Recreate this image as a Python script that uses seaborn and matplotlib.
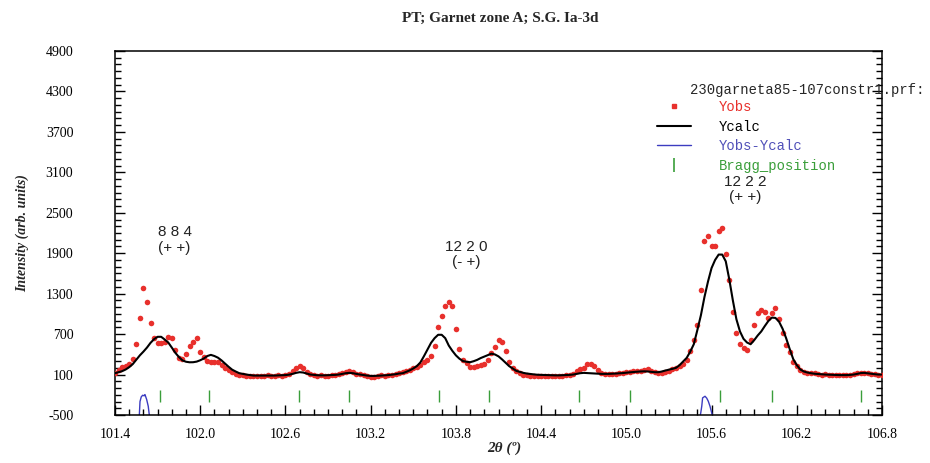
import numpy as np
import pandas as pd
import matplotlib
matplotlib.use("Agg")
import matplotlib.pyplot as plt
from matplotlib.lines import Line2D
from matplotlib.ticker import MultipleLocator
import seaborn as sns

# scan grid: 2theta from 101.4 deg in steps of 0.025 deg
scan_start = 101.4
scan_step = 0.025

# observed intensity, one value per scan step (rows of 10 steps)
y_obs = [
    130, 170, 205, 225, 259, 330, 560, 940, 1390, 1170,
    860, 640, 570, 570, 585, 655, 640, 460, 350, 330,
    400, 520, 590, 640, 430, 360, 295, 288, 290, 290,
    245, 200, 175, 140, 110, 100, 90, 85, 80, 82,
    80, 85, 75, 90, 80, 85, 95, 85, 100, 115,
    150, 200, 225, 195, 140, 110, 95, 85, 90, 80,
    85, 95, 90, 105, 120, 140, 150, 135, 115, 105,
    90, 80, 65, 70, 75, 90, 85, 95, 100, 110,
    120, 138, 157, 175, 193, 208, 235, 280, 318, 370,
    530, 800, 970, 1110, 1175, 1120, 770, 480, 320, 270,
    208, 212, 222, 237, 258, 320, 415, 510, 608, 585,
    450, 280, 190, 150, 125, 100, 92, 85, 85, 85,
    80, 80, 85, 75, 80, 85, 80, 90, 95, 110,
    150, 185, 200, 250, 260, 220, 165, 130, 115, 105,
    110, 110, 120, 125, 135, 140, 150, 155, 160, 175,
    180, 160, 135, 120, 125, 140, 160, 180, 200, 225,
    255, 320, 450, 620, 840, 1350, 2080, 2160, 2000, 2010,
    2230, 2270, 1890, 1500, 1030, 720, 550, 490, 460, 610,
    830, 1020, 1065, 1030, 935, 1010, 1080, 930, 720, 540,
    430, 285, 225, 175, 145, 130, 120, 120, 110, 100,
    105, 95, 100, 90, 95, 90, 95, 100, 110, 120,
    130, 125, 120, 110, 105, 100, 95,
]

# calculated profile on the same scan steps
y_calc = [
    120, 135, 150, 175, 210, 255, 320, 385, 440, 500,
    570, 625, 660, 660, 620, 575, 500, 422, 360, 310,
    290, 282, 283, 292, 312, 338, 375, 392, 375, 350,
    310, 262, 215, 172, 145, 120, 110, 100, 92, 85,
    85, 85, 85, 85, 85, 85, 88, 90, 92, 98,
    110, 125, 135, 130, 115, 100, 95, 90, 88, 88,
    90, 92, 95, 100, 110, 120, 125, 120, 110, 100,
    92, 85, 80, 80, 82, 85, 88, 92, 98, 105,
    115, 120, 140, 162, 190, 225, 280, 372, 470, 570,
    640, 690, 690, 640, 530, 452, 385, 335, 300, 290,
    283, 298, 318, 345, 367, 390, 410, 398, 370, 325,
    275, 225, 190, 155, 140, 125, 115, 108, 102, 97,
    95, 92, 90, 88, 88, 88, 90, 92, 95, 100,
    110, 120, 125, 122, 118, 115, 112, 110, 110, 110,
    112, 115, 118, 122, 128, 133, 138, 142, 146, 148,
    146, 140, 135, 135, 145, 160, 172, 185, 200, 240,
    295, 348, 440, 550, 760, 980, 1250, 1480, 1680, 1800,
    1880, 1880, 1780, 1510, 1200, 920, 740, 630, 575, 550,
    610, 680, 740, 820, 895, 945, 940, 885, 780, 640,
    480, 330, 240, 175, 145, 130, 120, 112, 108, 104,
    100, 98, 95, 93, 92, 92, 92, 95, 100, 110,
    122, 125, 118, 110, 105, 100, 100,
]

# difference curve (mostly below the visible range)
diff_2theta = [101.40, 101.560, 101.570, 101.576, 101.585, 101.595, 101.605,
               101.611, 101.623, 101.634, 101.645, 101.660,
               105.500, 105.515, 105.524, 105.531, 105.537, 105.554, 105.566,
               105.577, 105.589, 105.601, 105.612, 105.640, 106.80]
diff_vals = [-650, -650, -560, -300, -230, -207, -215,
             -197, -271, -370, -560, -650,
             -650, -560, -468, -370, -246, -222, -250,
             -296, -370, -468, -560, -650, -650]

bragg_pos = [101.717, 102.064, 102.695, 103.049, 103.683, 104.035,
             104.666, 105.026, 105.659, 106.028, 106.654]

x_ticks = [101.4, 102.0, 102.6, 103.2, 103.8, 104.4, 105.0, 105.6, 106.2, 106.8]
y_ticks = [-500, 100, 700, 1300, 1900, 2500, 3100, 3700, 4300, 4900]

peak_labels = ["8 8 4\n(+ +)", "12 2 0\n(- +)", "12 2 2\n(+ +)"]
peak_label_x = [101.82, 103.87, 105.835]
peak_label_y = [2095, 1880, 2845]

RED = "#e8302c"
BLUE = "#3c3cc0"
GREEN = "#3a9e3a"

two_theta = np.round(scan_start + scan_step * np.arange(len(y_obs)), 3)
df = pd.DataFrame({"two_theta": two_theta, "Yobs": y_obs, "Ycalc": y_calc})
diff_df = pd.DataFrame({"two_theta": diff_2theta, "diff": diff_vals})

sns.set_style("ticks")
plt.rcParams["font.family"] = ["Liberation Serif", "DejaVu Serif"]
plt.rcParams["axes.unicode_minus"] = False

fig = plt.figure(figsize=(9.3, 4.63), dpi=100)
ax = fig.add_axes([115 / 930, 48 / 463, 767 / 930, 364 / 463])

sns.scatterplot(data=df, x="two_theta", y="Yobs", ax=ax, color=RED, s=16,
                marker="o", linewidth=0, zorder=3, legend=False)
sns.lineplot(data=df, x="two_theta", y="Ycalc", ax=ax, color="black",
             linewidth=1.5, zorder=4, legend=False)
sns.lineplot(data=diff_df, x="two_theta", y="diff", ax=ax, color=BLUE,
             linewidth=1.0, zorder=2, legend=False, sort=False)
ax.vlines(bragg_pos, -310, -130, color=GREEN, linewidth=1.0)

for lab, lx, ly in zip(peak_labels, peak_label_x, peak_label_y):
    ax.text(lx, ly, lab, ha="center", va="center", fontsize=11,
            family=["Liberation Sans", "DejaVu Sans"], color="#222222",
            linespacing=1.15)

ax.set_xlim(101.4, 106.8)
ax.set_ylim(-500, 4900)
ax.set_xticks(x_ticks)
ax.set_xticklabels([f"{v:.1f}" for v in x_ticks])
ax.set_yticks(y_ticks)
ax.set_yticklabels([str(v) for v in y_ticks])
ax.xaxis.set_minor_locator(MultipleLocator(0.1))
ax.yaxis.set_minor_locator(MultipleLocator(100))

ax.tick_params(which="both", direction="in", left=True, right=True,
               bottom=True, top=False, width=1.0, colors="black",
               labelsize=10)
ax.tick_params(which="major", length=7)
ax.tick_params(which="minor", length=4)
ax.tick_params(axis="y", pad=30)
ax.tick_params(axis="x", pad=9)
for side in ax.spines.values():
    side.set_visible(True)
    side.set_linewidth(1.1)
    side.set_color("black")

ax.set_xlabel("2θ (º)", fontsize=11, fontweight="bold", fontstyle="italic")
ax.xaxis.set_label_coords(0.508, -0.072)
ax.set_ylabel("Intensity (arb. units)", fontsize=10, fontweight="bold",
              fontstyle="italic")
ax.yaxis.set_label_coords(-0.112, 0.5)

fig.text(500 / 930, 1 - 18 / 463, "PT; Garnet zone A; S.G. Ia-3d",
         ha="center", va="center", fontsize=11, fontweight="bold")

# legend in WinPLOTR style
ax.text(0.75, 0.893, "230garneta85-107constr1.prf:", transform=ax.transAxes,
        ha="left", va="center", fontsize=10, family="Liberation Mono",
        clip_on=False)
handles = [
    Line2D([], [], linestyle="None", marker="s", markersize=2.5, color=RED),
    Line2D([], [], color="black", linewidth=1.5),
    Line2D([], [], color=BLUE, linewidth=1.0),
    Line2D([], [], linestyle="None", marker="|", markersize=10,
           markeredgewidth=1.2, color=GREEN),
]
labels = ["Yobs", "Ycalc", "Yobs-Ycalc", "Bragg_position"]
ax.legend(handles, labels, loc="upper left", bbox_to_anchor=(0.707, 0.865),
          frameon=False, prop={"family": "Liberation Mono", "size": 10},
          labelcolor=[RED, "black", "#5050b8", GREEN], handlelength=2.4,
          handletextpad=2.0, labelspacing=0.4, borderpad=0, borderaxespad=0)

fig.savefig("out.png", dpi=100)
